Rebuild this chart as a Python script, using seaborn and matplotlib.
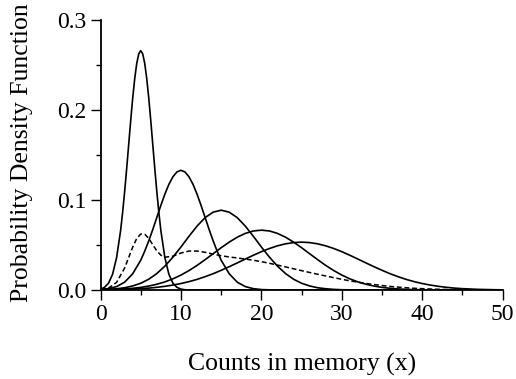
import matplotlib
matplotlib.use("Agg")
import matplotlib.pyplot as plt
import seaborn as sns
import pandas as pd
from matplotlib.ticker import MultipleLocator, FormatStrFormatter

# ---- data ----
x_c1 = [0, 0.5, 1, 1.5, 2, 2.5, 2.75, 3, 3.25, 3.5, 3.75, 4, 4.25, 4.5, 4.75, 5,
        5.25, 5.5, 5.75, 6, 6.25, 6.5, 6.75, 7, 7.25, 7.5, 8, 8.5, 9, 9.5, 10,
        10.5, 11, 12, 50]
y_c1 = [0.0010, 0.0030, 0.0076, 0.0175, 0.0360, 0.0662, 0.0864, 0.1093, 0.1347,
        0.1613, 0.1880, 0.2131, 0.2347, 0.2516, 0.2623, 0.2660, 0.2623, 0.2516,
        0.2347, 0.2131, 0.1880, 0.1613, 0.1347, 0.1093, 0.0864, 0.0662, 0.0360,
        0.0175, 0.0076, 0.0030, 0.0010, 0.0003, 0.0001, 0.0, 0.0]

x_c2 = [0, 1, 2, 3, 4, 5, 5.5, 6, 6.5, 7, 7.5, 8, 8.5, 9, 9.5, 10, 10.5, 11,
        11.5, 12, 12.5, 13, 13.5, 14, 14.5, 15, 16, 17, 18, 19, 20, 21, 22, 50]
y_c2 = [0.0005, 0.0015, 0.0038, 0.0087, 0.0180, 0.0331, 0.0432, 0.0547, 0.0673,
        0.0807, 0.0940, 0.1065, 0.1174, 0.1258, 0.1312, 0.1330, 0.1312, 0.1258,
        0.1174, 0.1065, 0.0940, 0.0807, 0.0673, 0.0547, 0.0432, 0.0331, 0.0180,
        0.0087, 0.0038, 0.0015, 0.0005, 0.0002, 0.0, 0.0]

x_c3 = list(range(0, 34)) + [50]
y_c3 = [0.0003, 0.0007, 0.0014, 0.0025, 0.0045, 0.0075, 0.0120, 0.0183, 0.0265,
        0.0365, 0.0478, 0.0597, 0.0710, 0.0804, 0.0865, 0.0887, 0.0865, 0.0804,
        0.0710, 0.0597, 0.0478, 0.0365, 0.0265, 0.0183, 0.0120, 0.0075, 0.0045,
        0.0025, 0.0014, 0.0007, 0.0003, 0.0002, 0.0001, 0.0, 0.0]

x_c4 = list(range(0, 44)) + [50]
y_c4 = [0.0003, 0.0004, 0.0007, 0.0012, 0.0019, 0.0029, 0.0044, 0.0064, 0.0090,
        0.0124, 0.0166, 0.0216, 0.0273, 0.0337, 0.0403, 0.0470, 0.0532, 0.0587,
        0.0629, 0.0656, 0.0665, 0.0656, 0.0629, 0.0587, 0.0532, 0.0470, 0.0403,
        0.0337, 0.0273, 0.0216, 0.0166, 0.0124, 0.0090, 0.0064, 0.0044, 0.0029,
        0.0019, 0.0012, 0.0007, 0.0004, 0.0003, 0.0001, 0.0001, 0.0, 0.0]

x_c5 = list(range(0, 51))
y_c5 = [0.0002, 0.0003, 0.0005, 0.0007, 0.0011, 0.0015, 0.0021, 0.0030, 0.0041,
        0.0055, 0.0072, 0.0093, 0.0118, 0.0148, 0.0181, 0.0219, 0.0259, 0.0301,
        0.0344, 0.0386, 0.0426, 0.0461, 0.0491, 0.0513, 0.0527, 0.0532, 0.0527,
        0.0513, 0.0491, 0.0461, 0.0426, 0.0386, 0.0344, 0.0301, 0.0259, 0.0219,
        0.0181, 0.0148, 0.0118, 0.0093, 0.0072, 0.0055, 0.0041, 0.0030, 0.0021,
        0.0015, 0.0011, 0.0007, 0.0005, 0.0003, 0.0002]

x_mix = [0, 1, 2, 3, 3.5, 4, 4.5, 5, 5.5, 6, 6.5, 7, 7.5, 8, 9, 10, 11, 12, 13,
         14, 15, 16, 17, 18, 19, 20, 21, 22, 23, 24, 25, 26, 27, 28, 29, 30, 31,
         32, 33, 34, 35, 36, 37, 38, 39, 40, 41, 42, 43, 44, 45, 46, 47, 48, 49, 50]
y_mix = [0.0005, 0.0021, 0.0085, 0.0245, 0.0360, 0.0477, 0.0572, 0.0622, 0.0620,
         0.0573, 0.0503, 0.0435, 0.0387, 0.0364, 0.0376, 0.0411, 0.0433, 0.0433,
         0.0419, 0.0399, 0.0381, 0.0367, 0.0356, 0.0344, 0.0331, 0.0315, 0.0297,
         0.0277, 0.0257, 0.0236, 0.0215, 0.0195, 0.0175, 0.0156, 0.0137, 0.0119,
         0.0102, 0.0087, 0.0073, 0.0061, 0.0050, 0.0040, 0.0032, 0.0025, 0.0019,
         0.0015, 0.0011, 0.0008, 0.0006, 0.0004, 0.0003, 0.0002, 0.0001, 0.0001,
         0.0001, 0.0]

x_ticks = [0, 10, 20, 30, 40, 50]
y_ticks = [0.0, 0.1, 0.2, 0.3]
x_label = "Counts in memory (x)"
y_label = "Probability Density Function"

# ---- build long table ----
frames = []
for name, xs, ys in [("m5", x_c1, y_c1), ("m10", x_c2, y_c2), ("m15", x_c3, y_c3),
                     ("m20", x_c4, y_c4), ("m25", x_c5, y_c5)]:
    frames.append(pd.DataFrame({"x": xs, "y": ys, "curve": name}))
df_solid = pd.concat(frames, ignore_index=True)
df_mix = pd.DataFrame({"x": x_mix, "y": y_mix})

sns.set_style("ticks")
plt.rcParams["font.family"] = ["Liberation Serif", "DejaVu Serif"]

fig = plt.figure(figsize=(5.16, 3.79), dpi=100)
ax = fig.add_axes([0.1948, 0.2348, 0.7794, 0.7124])

sns.lineplot(data=df_solid, x="x", y="y", units="curve", estimator=None,
             color="black", linewidth=1.2, ax=ax, sort=True)
sns.lineplot(data=df_mix, x="x", y="y", color="black", linewidth=1.1,
             linestyle=(0, (3.2, 1.8)), ax=ax)

ax.set_xlim(0, 50)
ax.set_ylim(0, 0.3)
ax.set_xticks(x_ticks)
ax.set_yticks(y_ticks)
ax.xaxis.set_minor_locator(MultipleLocator(5))
ax.yaxis.set_minor_locator(MultipleLocator(0.05))
ax.yaxis.set_major_formatter(FormatStrFormatter("%.1f"))

for s in ["top", "right"]:
    ax.spines[s].set_visible(False)
for s in ["left", "bottom"]:
    ax.spines[s].set_linewidth(1.3)
    ax.spines[s].set_color("black")

ax.tick_params(which="major", length=7.5, width=1.0, direction="out",
               labelsize=17, colors="black", pad=2.5)
ax.tick_params(which="minor", length=3.8, width=1.0, direction="out",
               colors="black")

ax.set_xlabel(x_label, fontsize=18.5, color="black")
ax.set_ylabel(y_label, fontsize=18.5, color="black")
ax.xaxis.set_label_coords(0.501, -0.233)
ax.yaxis.set_label_coords(-0.168, 0.51)

fig.savefig("out.png", dpi=100, facecolor="white")
